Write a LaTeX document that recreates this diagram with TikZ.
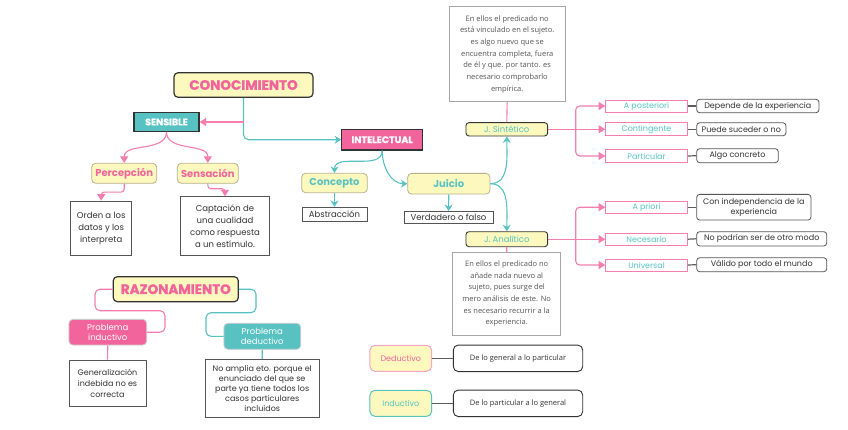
\documentclass[tikz,border=0pt]{standalone}
\usepackage{fontspec}
\setmainfont{Poppins}
\newfontfamily\osans{Open Sans}
\newfontfamily\heavy{Poppins}[BoldFeatures={FakeBold=1.3}]
\usetikzlibrary{arrows.meta,calc}
\definecolor{ylw}{HTML}{FDF9BE}
\definecolor{pnk}{HTML}{F2649C}
\definecolor{pnkl}{HTML}{F47FAE}
\definecolor{tea}{HTML}{58C2C3}
\definecolor{dk}{HTML}{333333}
\definecolor{gtxt}{HTML}{555555}
\definecolor{beige}{HTML}{B8B08C}
\tikzset{
  base/.style={inner sep=0pt, align=center},
  head/.style={base, draw=dk, line width=1.2pt, fill=ylw, rounded corners=4pt, text=pnk, font=\heavy\fontsize{13.5}{15}\selectfont\bfseries},
  tagteal/.style={base, draw=dk, line width=1.2pt, fill=tea, text=white, font=\heavy\fontsize{9.5}{11}\selectfont\bfseries},
  tagpink/.style={base, draw=dk, line width=1.2pt, fill=pnk, text=white, font=\heavy\fontsize{9.5}{11}\selectfont\bfseries},
  soft/.style={base, draw=beige, line width=0.8pt, fill=ylw, rounded corners=4pt, font=\fontsize{10}{12}\selectfont\bfseries},
  jbox/.style={base, draw=dk, line width=0.9pt, fill=ylw, rounded corners=3pt, text=tea, font=\fontsize{8.5}{10}\selectfont},
  plain/.style={base, draw=gtxt, line width=0.8pt, fill=white, text=dk, font=\fontsize{8.5}{12}\selectfont},
  note/.style={base, draw=gray!70, line width=0.6pt, fill=white, text=gtxt, font=\osans\fontsize{7.5}{11.7}\selectfont},
  prop/.style={base, draw=pnkl, line width=1pt, fill=white, text=tea, font=\fontsize{8}{10}\selectfont, minimum width=81.6pt},
  desc/.style={base, draw=gtxt, line width=0.8pt, fill=white, rounded corners=3pt, text=dk, font=\fontsize{8}{10}\selectfont},
  prob/.style={base, draw=gray!40, line width=0.8pt, rounded corners=4pt, text=white, font=\fontsize{8.5}{10.5}\selectfont},
  legend/.style={base, line width=1pt, fill=ylw, rounded corners=5pt, font=\fontsize{8}{10}\selectfont, minimum width=61.7pt, minimum height=26pt},
  ldesc/.style={base, draw=dk, line width=0.9pt, fill=white, rounded corners=5pt, text=dk, font=\osans\fontsize{7.5}{10}\selectfont, minimum width=129.4pt, minimum height=26.5pt},
  pline/.style={draw=pnkl, line width=1.1pt},
  tline/.style={draw=tea, line width=1.1pt},
  parrow/.style={pline, -{Triangle[length=6.5pt,width=8pt]}},
  tarrow/.style={tline, -{Stealth[length=6.5pt,width=8pt]}},
  dline/.style={draw=dk!80, line width=1.2pt}
}
\begin{document}
\begin{tikzpicture}[x=1pt,y=1pt]
\useasboundingbox[fill=white] (0,0) rectangle (848,-429);

% ---- top left
\node[head, minimum width=139pt, minimum height=24.5pt] (conoc) at (243.5,-85) {CONOCIMIENTO};
\node[tagteal, minimum width=65pt, minimum height=18.6pt] (sens) at (166.5,-122) {SENSIBLE};
\node[tagpink, minimum width=81pt, minimum height=20.7pt] (intel) at (382.2,-139.7) {INTELECTUAL};
\node[soft, text=pnk, minimum width=65pt, minimum height=20pt] (percep) at (124.2,-173.3) {Percepción};
\node[soft, text=pnk, minimum width=61pt, minimum height=20pt] (sensac) at (207.8,-173.3) {Sensación};
\node[plain, minimum width=61pt, minimum height=54pt] (orden) at (101.2,-228) {Orden a los\\datos y los\\interpreta};
\node[plain, minimum width=88.6pt, minimum height=58.3pt] (capt) at (225,-225.8) {Captación de\\una cualidad\\como respuesta\\a un estímulo.};

% ---- middle
\node[soft, text=tea, minimum width=65.6pt, minimum height=19.4pt] (concepto) at (334.5,-183) {Concepto};
\node[plain, minimum width=65pt, minimum height=14.4pt] (abstr) at (334.5,-214.5) {Abstracción};
\node[soft, text=tea, minimum width=82.3pt, minimum height=20.7pt] (juicio) at (448.8,-183.7) {Juicio};
\node[plain, minimum width=89pt, minimum height=12pt] (verd) at (448.5,-217.5) {Verdadero o falso};

% ---- judgements
\node[note, minimum width=115.7pt, minimum height=95pt] (sinttext) at (507.2,-54.2) {En ellos el predicado no\\está vinculado en el sujeto.\\es algo nuevo que se\\encuentra completa, fuera\\de él y que. por tanto. es\\necesario comprobarlo\\empírica.};
\node[jbox, minimum width=81.7pt, minimum height=13.3pt] (sint) at (506.8,-129.3) {J. Sintético};
\node[jbox, minimum width=81.7pt, minimum height=15pt] (anal) at (506.8,-239.2) {J. Analítico};
\node[note, minimum width=108pt, minimum height=82.7pt] (analtext) at (506.7,-293.7) {En ellos el predicado no\\añade nada nuevo al\\sujeto, pues surge del\\mero análisis de este. No\\es necesario recurrir a la\\experiencia.};

% ---- properties
\node[prop, minimum height=12pt] (apost) at (646.5,-106) {A posteriori};
\node[prop, minimum height=13pt] (conting) at (646.5,-129.3) {Contingente};
\node[prop, minimum height=13.4pt] (partic) at (646.5,-156) {Particular};
\node[prop, minimum height=12.3pt] (apriori) at (646.5,-207.2) {A priori};
\node[prop, minimum height=11.7pt] (neces) at (646.5,-239.2) {Necesario};
\node[prop, minimum height=12pt] (univ) at (646.5,-265) {Universal};

\node[desc, minimum width=122.3pt, minimum height=13.4pt] (depende) at (757.8,-106) {Depende de la experiencia};
\node[desc, minimum width=89.3pt, minimum height=13pt] (puede) at (741.3,-129.3) {Puede suceder o no};
\node[desc, minimum width=81.6pt, minimum height=14pt] (algo) at (737.5,-155.7) {Algo concreto};
\node[desc, minimum width=114.3pt, minimum height=25.7pt] (conind) at (753.8,-207.2) {Con independencia de la\\experiencia};
\node[desc, minimum width=130pt, minimum height=14.3pt] (noprod) at (761.7,-238.8) {No podrían ser de otro modo};
\node[desc, minimum width=130pt, minimum height=14pt] (valido) at (761.7,-264.7) {Válido por todo el mundo};

% ---- razonamiento
\node[head, minimum width=125pt, minimum height=25pt] (razon) at (175.8,-289.2) {RAZONAMIENTO};
\node[prob, fill=pnk, minimum width=77.7pt, minimum height=25.7pt] (pind) at (107.8,-332.2) {Problema\\inductivo};
\node[prob, fill=tea, minimum width=76.7pt, minimum height=26pt] (pded) at (262.3,-336.3) {Problema\\deductivo};
\node[plain, font=\fontsize{8}{11}\selectfont, minimum width=77pt, minimum height=46.7pt] (gen) at (107.5,-383.3) {Generalización\\indebida no es\\correcta};
\node[plain, font=\fontsize{8}{10}\selectfont, minimum width=114.3pt, minimum height=58.4pt] (noampl) at (262.2,-388.5) {No amplia eto. porque el\\enunciado del que se\\parte ya tiene todos los\\casos particulares\\incluidos};

% ---- legend
\node[legend, draw=pnkl!70, text=pnk] (deduct) at (400.8,-358.3) {Deductivo};
\node[ldesc] (dgen) at (518,-358.3) {De lo general a lo particular};
\node[legend, draw=tea, text=tea] (induct) at (400.8,-403.3) {Inductivo};
\node[ldesc] (dpart) at (518,-403.3) {De lo particular a lo general};

% ---- connectors
\draw[tarrow, rounded corners=5pt] (conoc.south) |- (intel.west);
\draw[parrow] (conoc.south |- sens.east) -- (sens.east);
\draw[parrow] (sens.south) to[out=-90,in=90] (percep.north);
\draw[parrow] (sens.south) to[out=-90,in=90] (sensac.north);
\draw[parrow, rounded corners=3pt] (percep.south) -- ++(0,-8.4) -| (orden.north);
\draw[parrow, rounded corners=3pt] (sensac.south) -- ++(0,-5) -| (capt.north);

\draw[tarrow] (intel.south) to[out=-90,in=90] (concepto.north);
\draw[tarrow] (intel.south) to[out=-90,in=180] (juicio.west);
\draw[tarrow] (concepto.south) -- (abstr.north);
\draw[tarrow] (juicio.south) -- (verd.north);
\draw[tarrow] (juicio.east) to[out=0,in=-90] (sint.south);
\draw[tarrow] (juicio.east) to[out=0,in=90] (anal.north);

\draw[pline] (sinttext.south) -- (sint.north);
\draw[pline] (anal.south) -- (analtext.north);

\coordinate (bs) at (575.7,-129.3);
\coordinate (ba) at (575.7,-239.2);
\draw[pline] (sint.east) -- (bs);
\draw[parrow] (bs) -- (conting.west);
\draw[parrow, rounded corners=4pt] (bs) |- (apost.west);
\draw[parrow, rounded corners=4pt] (bs) |- (partic.west);
\draw[pline] (anal.east) -- (ba);
\draw[parrow] (ba) -- (neces.west);
\draw[parrow, rounded corners=4pt] (ba) |- (apriori.west);
\draw[parrow, rounded corners=4pt] (ba) |- (univ.west);

\draw[dline] (apost.east) -- (depende.west);
\draw[dline] (conting.east) -- (puede.west);
\draw[dline] (partic.east) -- (algo.west);
\draw[dline] (apriori.east) -- (conind.west);
\draw[dline] (neces.east) -- (noprod.west);
\draw[dline] (univ.east) -- (valido.west);

\draw[pline, rounded corners=5pt] (razon.west) -- (95,-289.2) -- (95,-310.7) -- (165,-310.7) -- (165,-332.2) -- (pind.east);
\draw[tline, rounded corners=5pt] (razon.east) -- (256,-289.2) -- (256,-312.7) -- (206,-312.7) -- (206,-336.3) -- (pded.west);
\draw[pline] (pind.south) -- (gen.north);
\draw[tline] (pded.south) -- (noampl.north);

\draw[dline] (deduct.east) -- (dgen.west);
\draw[dline] (induct.east) -- (dpart.west);
\end{tikzpicture}
\end{document}
